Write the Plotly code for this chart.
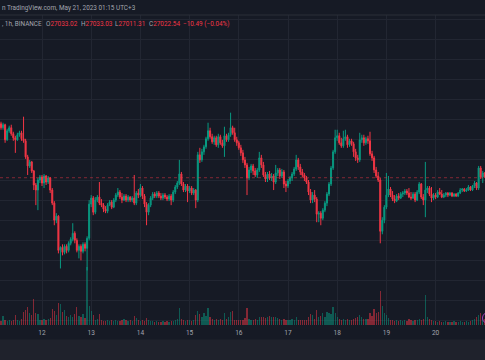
import pandas as pd
import plotly.graph_objects as go

# ---------------- data (BTC/USDT, 1h, Binance) ----------------
first_open = 27560
closes = [
    27520, 27550, 27400, 27490, 27520, 27460, 27420, 27400, 27450, 27470, 27410, 27390, 27230, 27140, 27180, 27090, 26950, 26900, 27000, 27030,
    26970, 27040, 26980, 27020, 26900, 26770, 26600, 26640, 26300, 26330, 26280, 26340, 26300, 26370, 26410, 26470, 26400, 26300, 26340, 26290, 26360, 26320, 26420, 26760,
    26820, 26680, 26800, 26830, 26770, 26750, 26710, 26690, 26750, 26780, 26730, 26800, 26850, 26880, 26830, 26800, 26840, 26800, 26830, 26800, 26820, 26770, 26870, 26850,
    26920, 26840, 26760, 26680, 26750, 26820, 26860, 26840, 26870, 26840, 26820, 26850, 26830, 26810, 26840, 26800, 26880, 26930, 26970, 27060, 26960, 26900, 26940, 26890,
    26920, 26870, 26900, 26800, 27250, 27200, 27280, 27330, 27410, 27490, 27430, 27380, 27420, 27350, 27430, 27370, 27340, 27440, 27400, 27450, 27520, 27470, 27400, 27370,
    27320, 27270, 27200, 27150, 27020, 27100, 27140, 27090, 27050, 27100, 27220, 27150, 27050, 27010, 27060, 27020, 27040, 26980, 27070, 27100, 27040, 27080, 26960, 26940,
    26990, 27020, 27060, 27110, 27200, 27130, 27080, 27050, 27020, 26980, 26880, 26800, 26850, 26810, 26660, 26670, 26620, 26700, 26770, 26860, 26960, 27120, 27280, 27420,
    27440, 27370, 27340, 27410, 27430, 27350, 27390, 27360, 27280, 27220, 27200, 27400, 27420, 27370, 27410, 27390, 27260, 27220, 27100, 27040, 27000, 26490, 26600, 26730,
    26850, 26910, 26850, 26810, 26790, 26840, 26820, 26860, 26870, 26890, 26870, 26830, 26820, 26860, 26800, 26880, 26960, 26830, 26800, 26900, 26920, 26860, 26820, 26850,
    26830, 26880, 26860, 26830, 26850, 26870, 26850, 26870, 26840, 26860, 26840, 26870, 26900, 26910, 26890, 26900, 26930, 26900, 26940, 26970, 26920, 27120, 27030, 27070,
    27033.02, 27022.54,
]
highs = [
    27580, 27570, 27560, 27510, 27540, 27550, 27480, 27440, 27470, 27490, 27490, 27630, 27410, 27250, 27200, 27190, 27100, 26970, 27020, 27050,
    27050, 27060, 27050, 27040, 27030, 26920, 26790, 26670, 26650, 26340, 26360, 26360, 26360, 26390, 26430, 26570, 26490, 26420, 26360, 26360, 26380, 26380, 26440, 26800,
    26850, 26840, 26830, 26850, 26980, 26810, 26770, 26740, 26770, 26800, 26800, 26820, 26870, 26920, 26900, 26870, 26860, 26860, 26850, 26840, 26840, 27050, 26890, 26910,
    26960, 26940, 26860, 26780, 26770, 26840, 26880, 26880, 26890, 26890, 26870, 26870, 26870, 26850, 26860, 26860, 26900, 26950, 26990, 27200, 27080, 26980, 26960, 26960,
    26940, 26940, 26920, 26910, 27280, 27320, 27310, 27350, 27430, 27570, 27520, 27460, 27440, 27440, 27460, 27450, 27400, 27530, 27460, 27470, 27670, 27540, 27520, 27430,
    27390, 27350, 27300, 27230, 27170, 27130, 27160, 27160, 27120, 27120, 27280, 27250, 27180, 27080, 27080, 27090, 27070, 27060, 27150, 27120, 27120, 27110, 27100, 26990,
    27010, 27040, 27080, 27130, 27250, 27220, 27160, 27110, 27070, 27040, 27000, 26910, 26880, 26900, 26830, 26690, 26690, 26720, 26790, 26880, 26980, 27140, 27300, 27500,
    27500, 27470, 27420, 27490, 27500, 27450, 27410, 27410, 27380, 27310, 27250, 27470, 27450, 27450, 27430, 27440, 27480, 27290, 27240, 27130, 27080, 27020, 26630, 26750,
    27070, 27040, 26930, 26890, 26850, 26860, 26870, 26880, 26890, 26910, 26910, 26920, 26880, 26880, 26880, 26900, 26980, 26970, 26860, 27180, 26940, 26940, 26930, 26870,
    26870, 26900, 26920, 26900, 26870, 26880, 26880, 26880, 26880, 26870, 26870, 26880, 26920, 26920, 26920, 26920, 26950, 26940, 26950, 26990, 26980, 27140, 27140, 27090,
    27080, 27033.03,
]
lows = [
    27500, 27500, 27370, 27390, 27470, 27440, 27390, 27270, 27390, 27430, 27390, 27370, 27210, 27050, 27120, 27070, 26900, 26750, 26700, 26970,
    26940, 26920, 26950, 26960, 26870, 26750, 26550, 26570, 26270, 26120, 26250, 26260, 26270, 26280, 26350, 26390, 26370, 26280, 26220, 26200, 26270, 26290, 26100, 26400,
    26730, 26650, 26660, 26780, 26750, 26730, 26680, 26670, 26670, 26740, 26710, 26720, 26780, 26830, 26810, 26770, 26790, 26780, 26780, 26780, 26780, 26750, 26750, 26820,
    26830, 26810, 26730, 26550, 26650, 26730, 26800, 26820, 26820, 26820, 26800, 26800, 26810, 26790, 26790, 26750, 26780, 26860, 26910, 26950, 26940, 26880, 26880, 26780,
    26870, 26850, 26850, 26720, 26780, 27170, 27180, 27250, 27310, 27390, 27410, 27360, 27350, 27330, 27320, 27350, 27320, 27230, 27380, 27380, 27430, 27450, 27380, 27340,
    27300, 27240, 27170, 27120, 26850, 27000, 27070, 27050, 27030, 27020, 27080, 27120, 27030, 26980, 26980, 27000, 26990, 26900, 26960, 27040, 27010, 27020, 26920, 26880,
    26920, 26960, 26990, 27040, 27090, 27100, 27050, 27030, 26990, 26960, 26850, 26770, 26770, 26780, 26580, 26580, 26550, 26600, 26680, 26740, 26840, 26940, 27100, 27260,
    27390, 27350, 27320, 27320, 27390, 27320, 27330, 27340, 27230, 27190, 27170, 27180, 27370, 27340, 27350, 27360, 27240, 27190, 27070, 27020, 26980, 26370, 26460, 26570,
    26710, 26830, 26830, 26790, 26770, 26780, 26800, 26810, 26830, 26850, 26850, 26820, 26800, 26810, 26780, 26790, 26860, 26810, 26750, 26630, 26870, 26840, 26780, 26800,
    26810, 26820, 26850, 26820, 26820, 26830, 26830, 26840, 26830, 26830, 26830, 26830, 26860, 26880, 26880, 26880, 26890, 26890, 26890, 26920, 26900, 26900, 27010, 26970,
    27020, 27011.31,
]
volumes = [
    1000, 2250, 1250, 1000, 1250, 1000, 1250, 2500, 1250, 1000, 1500, 3250, 3750, 4500, 3000, 2500, 6500, 3000, 2750, 1250,
    1250, 1500, 1250, 1500, 1750, 4000, 3500, 2500, 5500, 5250, 3250, 3750, 2250, 2000, 2500, 2000, 2750, 4500, 2250, 2000, 2750, 1750, 14500, 4750,
    3500, 2500, 1250, 1500, 2750, 1250, 1000, 1000, 1250, 1000, 1250, 1000, 1250, 1000, 1000, 1250, 1500, 1250, 1000, 1250, 1000, 2250, 1750, 1250,
    1000, 1250, 1000, 1750, 1250, 1000, 1000, 750, 1000, 750, 750, 1000, 750, 1000, 750, 1000, 1000, 1250, 1500, 4250, 1500, 1250, 1000, 1250,
    1250, 1000, 1250, 2500, 3500, 2750, 2000, 3000, 2250, 4250, 2000, 1500, 1250, 1500, 1250, 1500, 1250, 3000, 1500, 2000, 3250, 3500, 1250, 1250,
    1250, 1250, 1250, 1750, 4250, 1500, 1250, 1250, 1500, 1250, 2000, 1900, 2100, 1800, 2000, 2200, 1900, 2000, 2100, 1750, 1500, 1250, 1500, 1250,
    1250, 1250, 1500, 1250, 2000, 1250, 1250, 1250, 1250, 1250, 2000, 2750, 2500, 1500, 3750, 2000, 2250, 3000, 2000, 3250, 3000, 2750, 4500, 3000,
    2000, 1500, 1250, 1500, 1250, 1500, 1250, 1250, 1500, 1750, 2000, 2500, 2000, 1500, 1500, 1500, 3000, 2250, 4000, 3000, 3250, 8500, 4750, 3000,
    2500, 1750, 1250, 1250, 1000, 1250, 1000, 1250, 1000, 1250, 1000, 1500, 1250, 1000, 1250, 1250, 1500, 1250, 1500, 7500, 2000, 1500, 1250, 1000,
    1000, 750, 1000, 750, 750, 1000, 750, 750, 750, 1000, 750, 750, 1000, 750, 750, 1000, 750, 1000, 1250, 1500, 2000, 2500, 3000, 2000,
    1500, 750,
]
day_labels = ["12", "13", "14", "15", "16", "17", "18", "19", "20", "21"]
legend_values = {"O": "27033.02", "H": "27033.03", "L": "27011.31", "C": "27022.54"}
change_text = "\u221210.49 (\u22120.04%)"
last_price = 27022.54

times = pd.date_range("2023-05-11 04:00", periods=len(closes), freq="h")
opens = [first_open] + closes[:-1]

UP = "#089981"
DN = "#f23645"
BG = "#161a25"
GRID = "#222632"
TXT = "#a3a6af"

vol_colors = ["rgba(8,153,129,0.5)" if c >= o else "rgba(242,54,69,0.5)"
              for o, c in zip(opens, closes)]

W, H = 485, 360
TOP, BOT = 15, 325          # plot area pixel rows
PH = BOT - TOP


def py(y):   # pixel row -> paper y
    return (BOT - y) / PH


def px(x):   # pixel column -> paper x
    return x / W


fig = go.Figure()
fig.add_trace(go.Candlestick(
    x=times, open=opens, high=highs, low=lows, close=closes,
    increasing=dict(line=dict(color=UP, width=1), fillcolor=UP),
    decreasing=dict(line=dict(color=DN, width=1), fillcolor=DN),
    whiskerwidth=0, showlegend=False, hoverinfo="skip",
))
fig.add_trace(go.Bar(
    x=times, y=volumes, marker=dict(color=vol_colors, line=dict(width=0)),
    width=3600000 * 0.62, yaxis="y2", showlegend=False, hoverinfo="skip",
))

tickvals = pd.date_range("2023-05-12", periods=len(day_labels), freq="D")

fig.update_layout(
    width=W, height=H, autosize=False,
    margin=dict(l=0, r=0, t=TOP, b=H - BOT, pad=0, autoexpand=False),
    paper_bgcolor=BG, plot_bgcolor=BG,
    font=dict(family="Roboto", size=6.5, color=TXT),
    xaxis=dict(
        type="date", automargin=False,
        range=["2023-05-11 03:30:36", "2023-05-21 00:06:00"],
        tickvals=tickvals, ticktext=day_labels, ticks="",
        ticklabelstandoff=2,
        showgrid=True, gridcolor=GRID, gridwidth=1, zeroline=False, showline=False,
        rangeslider=dict(visible=False),
        tickfont=dict(size=6.5, color=TXT, family="Roboto"),
    ),
    yaxis=dict(
        automargin=False,
        range=[25557.2, 28641.8], dtick=200, tick0=27000,
        showticklabels=False, showgrid=True, gridcolor=GRID, gridwidth=1,
        zeroline=False, showline=False, ticks="",
    ),
    yaxis2=dict(
        automargin=False,
        overlaying="y", range=[0, 77500], showgrid=False,
        showticklabels=False, zeroline=False, showline=False,
    ),
    bargap=0,
)

shapes = [
    # header separator
    dict(type="line", xref="paper", yref="paper", x0=0, x1=1, y0=1, y1=1,
         line=dict(color="#2a2e39", width=1)),
    # bottom toolbar band
    dict(type="rect", xref="paper", yref="paper", x0=0, x1=1,
         y0=py(360), y1=py(339.5), fillcolor="#1f222c", line=dict(width=0)),
    # last price line
    dict(type="line", xref="paper", yref="y", x0=0, x1=1,
         y0=last_price, y1=last_price,
         line=dict(color="rgba(242,54,69,0.5)", width=1, dash="dot")),
    # partially visible marker at the right edge
    dict(type="circle", xref="paper", yref="paper",
         x0=px(482.5), x1=px(493.5), y0=py(323.5), y1=py(312.5),
         line=dict(color="#a23cb8", width=1)),
]
fig.update_layout(shapes=shapes)

RED = DN
ann = []
ann.append(dict(text="n TradingView.com, May 21, 2023 01:15 UTC+3", x=px(0.2), y=py(8),
                xanchor="left"))
ann.append(dict(text=", 1h, BINANCE", x=px(0.3), y=py(24), xanchor="left"))
for key, xp in zip(["O", "H", "L", "C"], [43.8, 78.6, 112.6, 146.6]):
    ann.append(dict(text=f"{key}<span style='color:{RED}'>{legend_values[key]}</span>",
                    x=px(xp), y=py(24), xanchor="left"))
ann.append(dict(text=f"<span style='color:{RED}'>{change_text}</span>",
                x=px(181), y=py(24), xanchor="left"))
for a in ann:
    a.update(xref="paper", yref="paper", yanchor="middle", showarrow=False,
             font=dict(family="Roboto", size=6.4, color=TXT))
fig.update_layout(annotations=ann)

post = ("document.documentElement.style.margin='0';"
        "document.body.style.margin='0';document.body.style.padding='0';"
        "document.body.style.overflow='hidden';"
        "document.body.style.background='" + BG + "';"
        "Plotly.relayout('{plot_id}', {width: 485, height: 360});")

fig.write_html("out.html", config={"responsive": False, "displayModeBar": False},
               post_script=post)
